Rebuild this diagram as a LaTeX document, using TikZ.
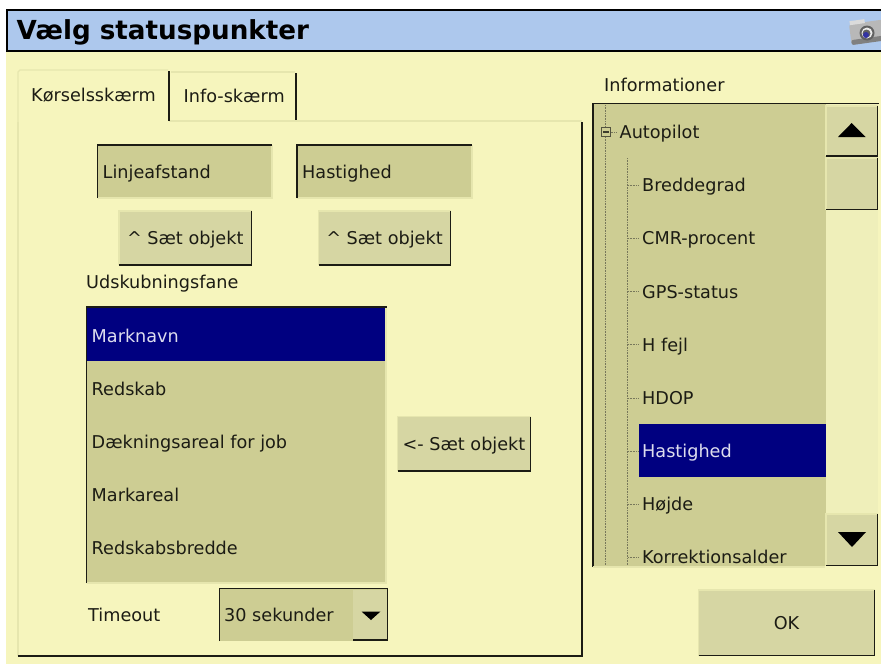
\documentclass[tikz,border=0pt]{standalone}
\usepackage{fontspec}
\setmainfont{DejaVu Sans}
\definecolor{bgc}{HTML}{F6F5BD}
\definecolor{titlec}{HTML}{ADC8ED}
\definecolor{fieldc}{HTML}{CDCD93}
\definecolor{btnc}{HTML}{D6D6A3}
\definecolor{edgec}{HTML}{E6E6AE}
\definecolor{navyc}{HTML}{000080}
\definecolor{inkc}{HTML}{1C1C14}
\definecolor{paperc}{HTML}{DDDDEE}
\definecolor{dotc}{HTML}{77775A}
\definecolor{scrollc}{HTML}{EFEFBA}
\tikzset{
  x=1pt,y=-1pt,
  lbl/.style={inner sep=0pt,anchor=base west,yshift=-6.5pt,text=inkc,font=\fontsize{17.65}{20}\selectfont},
  sel/.style={lbl,text=paperc},
  edge/.style={line width=1.8pt,draw=inkc},
  thin edge/.style={line width=1.2pt,draw=edgec},
  tick/.style={draw=dotc,line width=.8pt,dash pattern=on .8pt off .8pt},
}
\newcommand{\uibtn}[6]{% name, x1,y1,x2,y2, text
  \fill[btnc] (#2,#3) rectangle (#4,#5);
  \draw[thin edge] (#2,#5) -- (#2,#3) -- (#4,#3);
  \draw[edge] (#2,#5) -- (#4,#5) -- (#4,#3);
  \node[inner sep=0pt,anchor=base,yshift=-6.5pt,text=inkc,font=\fontsize{17.65}{20}\selectfont] (#1) at ({(#2+#4)/2},{(#3+#5)/2}) {#6};
}
\newcommand{\uifield}[6]{% name, x1,y1,x2,y2, text
  \fill[fieldc] (#2,#3) rectangle (#4,#5);
  \draw[thin edge] (#2,#5) -- (#4,#5) -- (#4,#3);
  \draw[edge] (#2,#5) -- (#2,#3) -- (#4,#3);
  \node[lbl] (#1) at (#2+5,{(#3+#5)/2}) {#6};
}
\begin{document}
\begin{tikzpicture}
\useasboundingbox (0,0) rectangle (881,664);
\fill[white] (0,0) rectangle (881,664);
\fill[bgc] (6,52) rectangle (881,664);
% title bar
\fill[titlec] (7,10) rectangle (881,51);
\draw[line width=2pt,black] (881,10) -- (7,10) -- (7,51) -- (881,51);
\node[inner sep=0pt,anchor=base west,text=black,font=\bfseries\fontsize{26.2}{30}\selectfont] (title) at (16.5,39.3) {Vælg statuspunkter};
% camera
\begin{scope}
\fill[black!28,rotate around={8:(866,31)},rounded corners=2.5pt] (850,22) rectangle (884,42);
\fill[black!50,rotate around={8:(866,31)},rounded corners=2pt] (850,38) rectangle (884,43);
\fill[black!14,rotate around={8:(866,31)}] (851,19) rectangle (866,23);
\fill[black!62] (867,33) circle (7.5);
\fill[black!8] (867,33) circle (5.5);
\fill[black!62] (866.5,33.5) circle (4);
\fill[blue!55!black!80] (866,35) circle (3);
\end{scope}
% tab panel
\draw[thin edge] (18,656) -- (18,122);
\draw[thin edge] (169,121) -- (582,121);
\draw[edge] (18,656) -- (582.3,656) -- (582.3,122);
% tabs
\draw[thin edge] (18,122) -- (18,72) -- (20,70) -- (168,70);
\draw[edge] (169,71) -- (169,121);
\node[lbl] (tabA) at (31,95) {Kørselsskærm};
\draw[thin edge] (171,72) -- (295,72);
\draw[edge] (296,73) -- (296,120);
\node[lbl] (tabB) at (183.5,96) {Info-skærm};
% top fields and buttons
\uifield{f1}{97.5}{145}{272}{198}{Linjeafstand}
\uifield{f2}{297}{145}{472}{198}{Hastighed}
\uibtn{b1}{119}{211}{251.5}{265}{\^{} Sæt objekt}
\uibtn{b2}{318.5}{211}{450.5}{265}{\^{} Sæt objekt}
\node[lbl] (udsk) at (86,282) {Udskubningsfane};
% list
\fill[fieldc] (86,307) rectangle (386,583);
\fill[navyc] (87,308) rectangle (386,361);
\draw[thin edge] (86.5,583) -- (386,583) -- (386,308);
\draw[edge] (86.5,583) -- (86.5,307.3) -- (386.5,307.3);
\node[sel] (l1) at (91.5,335.5) {Marknavn};
\node[lbl] (l2) at (91.5,388.5) {Redskab};
\node[lbl] (l3) at (91.5,441.5) {Dækningsareal for job};
\node[lbl] (l4) at (91.5,495) {Markareal};
\node[lbl] (l5) at (91.5,548) {Redskabsbredde};
\uibtn{b3}{397.5}{416.5}{530.5}{471}{<- Sæt objekt}
% timeout
\node[lbl] (timeout) at (88,614.5) {Timeout};
\fill[fieldc] (219,589) rectangle (388,641);
\fill[btnc] (353,590) rectangle (386.5,640);
\draw[edge] (219.5,641) -- (219.5,588.5) -- (387.5,588.5) -- (387.5,640.3) -- (353,640.3);
\node[lbl] (combo) at (224,614.5) {30 sekunder};
\fill[black] (361.5,611.5) -- (380.5,611.5) -- (371,620) -- cycle;
% info header
\node[lbl] (info) at (604,85) {Informationer};
% tree panel
\fill[fieldc] (593,104) rectangle (826,566);
\fill[scrollc] (826,104) rectangle (878,566);
\fill[navyc] (638.5,424) rectangle (825.5,477);
\draw[tick] (605.8,105) -- (605.8,566);
\draw[tick] (627.8,158) -- (627.8,566);
\draw[tick] (606,132) -- (616,132);
\fill[fieldc] (601,127.5) rectangle (610.5,136.5);
\draw[draw=dotc!70!black,line width=.9pt] (601,127.5) rectangle (610.5,136.5);
\draw[draw=dotc!50!black,line width=1.2pt] (603,132) -- (608.5,132);
\foreach \yy in {185,238,291,344,398,451,504,557} \draw[tick] (628,\yy) -- (639,\yy);
\node[lbl] (auto) at (619.5,132) {Autopilot};
\node[lbl] (t1) at (642,185) {Breddegrad};
\node[lbl] (t2) at (642,238) {CMR-procent};
\node[lbl] (t3) at (642,291.5) {GPS-status};
\node[lbl] (t4) at (642,344.5) {H fejl};
\node[lbl] (t5) at (642,398) {HDOP};
\node[sel] (t6) at (642,451) {Hastighed};
\node[lbl] (t7) at (642,504) {Højde};
\node[lbl] (t8) at (642,557) {Korrektionsalder};
\draw[line width=1.8pt,draw=inkc] (593,567) -- (593,103.5) -- (878.5,103.5);
\draw[thin edge] (593,567) -- (825,567);
% scrollbar
\uibtn{up}{826}{106}{877.5}{156}{}
\uibtn{thumb}{826}{158}{877.5}{209.5}{}
\uibtn{down}{826}{514}{877.5}{565.5}{}
\fill[black] (838,137) -- (865.5,137) -- (851.7,123) -- cycle;
\fill[black] (838,532) -- (866,532) -- (852,547) -- cycle;
% OK
\uibtn{ok}{698.5}{590}{874.5}{655.5}{OK}
\end{tikzpicture}
\end{document}
